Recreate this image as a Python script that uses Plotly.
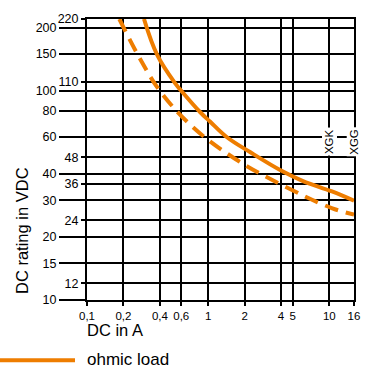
import math
import plotly.graph_objects as go

# ---- data ----
x_ohmic = [0.2955, 0.3805, 0.533, 0.612, 0.857, 1.036, 1.431, 2.216, 4.07, 6.07, 10.53, 16]
y_ohmic = [220, 147.8, 108.7, 98.6, 79.1, 71.2, 59.9, 50.9, 41.3, 37.0, 33.0, 29.8]

x_dash = [0.1848, 0.2828, 0.406, 0.754, 1.666, 4.05, 10.47, 16]
y_dash = [220, 137.5, 98.6, 66.7, 47.3, 35.5, 27.5, 25.6]

x_ticks = [0.1, 0.2, 0.4, 0.6, 1, 2, 4, 5, 10, 16]
x_ticktext = ["0,1", "0,2", "0,4", "0,6", "1", "2", "4", "5", "10", "16"]
y_major = [10, 15, 20, 30, 40, 60, 80, 100, 150, 200]
y_minor = [12, 24, 36, 48, 110, 220]

labels_text = ["XGK", "XGG"]
labels_x = [10, 16]
labels_y = 57

ORANGE = "#EE7D00"
FONT = "Liberation Sans, Arial, sans-serif"

xr = [math.log10(0.1), math.log10(16)]
yr = [math.log10(10), math.log10(220)]

fig = go.Figure()
fig.add_trace(go.Scatter(x=x_ohmic, y=y_ohmic, mode="lines",
                         line=dict(color=ORANGE, width=4, shape="spline", smoothing=1.1),
                         showlegend=False, hoverinfo="skip"))
fig.add_trace(go.Scatter(x=x_dash, y=y_dash, mode="lines",
                         line=dict(color=ORANGE, width=4, shape="spline", smoothing=1.1, dash="14px,8px"),
                         showlegend=False, hoverinfo="skip"))
# invisible traces so the two label axes are drawn
for ax in ["y2", "y3"]:
    fig.add_trace(go.Scatter(x=[1], y=[100], yaxis=ax, mode="markers", marker=dict(opacity=0),
                             showlegend=False, hoverinfo="skip"))

all_y = sorted(y_major + y_minor)
lab_axis = dict(type="log", range=yr, overlaying="y", side="left", ticks="outside", tickwidth=2,
                tickcolor="black", showgrid=False, showline=False, zeroline=False,
                tickfont=dict(size=12.5, family=FONT, color="black"))

fig.update_layout(
    width=375, height=373,
    margin=dict(l=87, r=21, t=15, b=73),
    paper_bgcolor="white", plot_bgcolor="white",
    font=dict(family=FONT, color="black"),
    xaxis=dict(type="log", range=xr, tickvals=x_ticks, ticktext=x_ticktext,
               ticks="outside", ticklen=4, tickwidth=2, tickcolor="black",
               showgrid=True, gridcolor="black", gridwidth=2,
               showline=True, linecolor="black", linewidth=2, mirror=True,
               tickfont=dict(size=11.5, family=FONT, color="black"), zeroline=False),
    yaxis=dict(type="log", range=yr, tickvals=all_y, showticklabels=False, ticks="",
               showgrid=True, gridcolor="black", gridwidth=2,
               showline=True, linecolor="black", linewidth=2, mirror=True, zeroline=False),
    yaxis2=dict(lab_axis, tickvals=y_major, ticktext=[str(v) for v in y_major], ticklen=27),
    yaxis3=dict(lab_axis, tickvals=y_minor, ticktext=[str(v) for v in y_minor], ticklen=5),
)

ann = []
for t, xv in zip(labels_text, labels_x):
    ann.append(dict(x=math.log10(xv), y=math.log10(labels_y), xref="x", yref="y", text=t,
                    textangle=-90, showarrow=False, bgcolor="white", borderpad=1,
                    font=dict(size=11.5, family=FONT, color="black")))
ann.append(dict(x=(85 - 87) / 267, y=-30 / 285, xref="paper", yref="paper", text="DC in A",
                xanchor="left", yanchor="middle", showarrow=False,
                font=dict(size=16.5, family=FONT, color="black")))
ann.append(dict(x=(22 - 87) / 267, y=(300 - 230) / 285, xref="paper", yref="paper",
                text="DC rating in VDC", textangle=-90, xanchor="center", yanchor="middle",
                showarrow=False, font=dict(size=16.5, family=FONT, color="black")))
ann.append(dict(x=(85 - 87) / 267, y=(300 - 360) / 285, xref="paper", yref="paper", text="ohmic load",
                xanchor="left", yanchor="middle", showarrow=False,
                font=dict(size=17, family=FONT, color="black")))
fig.update_layout(annotations=ann)

fig.add_shape(type="line", xref="paper", yref="paper", x0=-87 / 267, x1=(75 - 87) / 267,
              y0=(300 - 361) / 285, y1=(300 - 361) / 285, line=dict(color=ORANGE, width=4))

fig.write_html("out.html", config={"displayModeBar": False},
               post_script="document.body.style.margin='0';")
